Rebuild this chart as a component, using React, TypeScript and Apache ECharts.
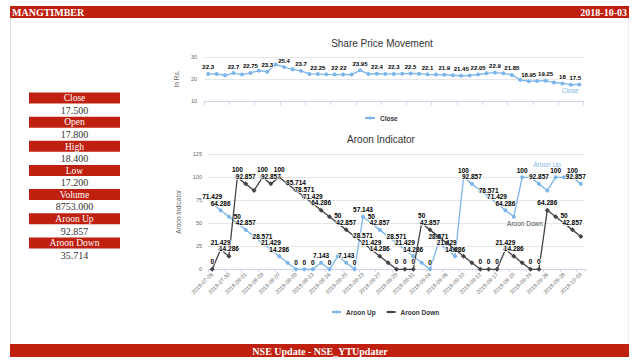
import React, { useEffect, useRef } from "react";
import * as echarts from "echarts";

const dates = ["2018-07-26","2018-07-27","2018-07-30","2018-07-31","2018-08-01","2018-08-02","2018-08-03","2018-08-06","2018-08-07","2018-08-08","2018-08-09","2018-08-10","2018-08-13","2018-08-14","2018-08-16","2018-08-17","2018-08-20","2018-08-21","2018-08-23","2018-08-24","2018-08-27","2018-08-28","2018-08-29","2018-08-30","2018-08-31","2018-09-03","2018-09-04","2018-09-05","2018-09-06","2018-09-07","2018-09-10","2018-09-11","2018-09-12","2018-09-14","2018-09-17","2018-09-18","2018-09-19","2018-09-21","2018-09-24","2018-09-25","2018-09-26","2018-09-27","2018-09-28","2018-10-01","2018-10-03"];

const closeValues = [22.3, 22.3, 21.7, 22.7, 22.0, 22.75, 23.8, 23.3, 26.6, 25.4, 24.4, 23.7, 22.3, 22.25, 22.1, 22, 22, 22.0, 23.95, 22.3, 22.4, 22.3, 22.3, 22.4, 22.5, 22.4, 22.1, 22.0, 21.9, 21.7, 21.45, 21.6, 22.05, 22.6, 22.9, 22.6, 21.85, 19.6, 18.95, 19.1, 19.25, 18.4, 18, 17.4, 17.5];
const closeLabelIdx = [0, 3, 5, 7, 9, 11, 13, 15, 16, 18, 20, 22, 24, 26, 28, 30, 32, 34, 36, 38, 40, 42, 44];

const aroonUp = [71.429, 64.286, 57.143, 50, 42.857, 35.714, 28.571, 21.429, 14.286, 7.143, 0, 0, 0, 7.143, 0, 14.286, 7.143, 0, 57.143, 50, 42.857, 35.714, 28.571, 21.429, 14.286, 7.143, 0, 28.571, 21.429, 14.286, 100, 92.857, 85.714, 78.571, 71.429, 64.286, 57.143, 100, 100, 92.857, 85.714, 100, 100, 100, 92.857];
const aroonUpLabelIdx = [0, 1, 3, 4, 6, 7, 8, 10, 11, 12, 13, 14, 16, 17, 18, 19, 20, 22, 23, 24, 26, 27, 28, 29, 30, 31, 33, 34, 35, 37, 39, 41, 43, 44];

const aroonDown = [0, 21.429, 14.286, 100, 92.857, 85.714, 100, 92.857, 100, 92.857, 85.714, 78.571, 71.429, 64.286, 57.143, 50, 42.857, 35.714, 28.571, 21.429, 14.286, 7.143, 0, 0, 0, 50, 42.857, 35.714, 28.571, 21.429, 14.286, 7.143, 0, 0, 0, 21.429, 14.286, 7.143, 0, 0, 64.286, 57.143, 50, 42.857, 35.714];
const aroonDownLabelIdx = [0, 1, 2, 3, 4, 6, 7, 8, 10, 11, 12, 13, 15, 16, 18, 19, 20, 22, 23, 24, 25, 26, 32, 33, 34, 35, 36, 38, 39, 40, 42, 43];

const panelLabels = ["Close", "Open", "High", "Low", "Volume", "Aroon Up", "Aroon Down"];
const panelValues = ["17.500", "17.800", "18.400", "17.200", "8753.000", "92.857", "35.714"];

const symbolName = "MANGTIMBER";
const reportDate = "2018-10-03";
const footerText = "NSE Update - NSE_YTUpdater";

const RED = "#c0200f";
const SERIF = "'Liberation Serif', 'Times New Roman', serif";
const SANS = "'Liberation Sans', Arial, sans-serif";

function withLabels(values: number[], shown: number[], lastOffset = 0) {
  return values.map((v, i) => {
    const label: any = { show: shown.includes(i) };
    if (lastOffset && i === values.length - 1) label.offset = [lastOffset, 0];
    return { value: v, label };
  });
}

const dataLabel = (size: number) => ({
  show: true,
  position: "top" as const,
  distance: 1.5,
  fontSize: size,
  fontWeight: "bold" as const,
  fontFamily: SANS,
  color: "#000",
  textBorderColor: "#fff",
  textBorderWidth: 1.5,
});

function buildGraphics() {
  const g: any[] = [];
  g.push({ type: "line", shape: { x1: 10.5, y1: 18, x2: 10.5, y2: 344 }, style: { stroke: "#dddddd", lineWidth: 1 } });
  g.push({ type: "line", shape: { x1: 628.5, y1: 18, x2: 628.5, y2: 344 }, style: { stroke: "#eeeeee", lineWidth: 1 } });
  g.push({ type: "rect", shape: { x: 10, y: 6, width: 619, height: 12 }, style: { fill: RED } });
  g.push({ type: "text", style: { text: symbolName, x: 12, y: 12.5, fill: "#fff", fontSize: 10, fontWeight: "bold", fontFamily: SERIF, verticalAlign: "middle", align: "left" } });
  g.push({ type: "text", style: { text: reportDate, x: 627, y: 12.5, fill: "#fff", fontSize: 10, fontWeight: "bold", fontFamily: SERIF, verticalAlign: "middle", align: "right" } });
  g.push({ type: "rect", shape: { x: 10, y: 344, width: 619, height: 13 }, style: { fill: RED } });
  g.push({ type: "text", style: { text: footerText, x: 320, y: 351, fill: "#fff", fontSize: 10, fontWeight: "bold", fontFamily: SERIF, verticalAlign: "middle", align: "center" } });
  panelLabels.forEach((lab, i) => {
    const y = 92.5 + i * 24.15;
    g.push({ type: "rect", shape: { x: 29, y, width: 91, height: 11 }, style: { fill: RED } });
    g.push({ type: "text", style: { text: lab, x: 74.5, y: y + 5.8, fill: "#fff", fontSize: 9.5, fontFamily: SERIF, verticalAlign: "middle", align: "center" } });
    g.push({ type: "text", style: { text: panelValues[i], x: 74.5, y: y + 17.8, fill: "#333", fontSize: 10, fontFamily: SERIF, verticalAlign: "middle", align: "center" } });
  });
  g.push({ type: "text", z: 1, style: { text: "Close", x: 570, y: 90, fill: "#7cb5ec", fontSize: 6.5, fontFamily: SANS, verticalAlign: "middle", align: "center", stroke: "#fff", lineWidth: 1.5 } });
  g.push({ type: "text", z: 1, style: { text: "Aroon Up", x: 547, y: 164.5, fill: "#7cb5ec", fontSize: 6.5, fontFamily: SANS, verticalAlign: "middle", align: "center" } });
  g.push({ type: "text", z: 1, style: { text: "Aroon Down", x: 525, y: 223, fill: "#434348", fontSize: 6.5, fontFamily: SANS, verticalAlign: "middle", align: "center", stroke: "#fff", lineWidth: 1.5 } });
  return g;
}

const axisNameStyle = { fontSize: 6.5, color: "#666", fontFamily: SANS };
const axisLabelStyle = { fontSize: 5.5, color: "#666", fontFamily: SANS };

const option: any = {
  animation: false,
  backgroundColor: "#fff",
  textStyle: { fontFamily: SANS },
  title: [
    { text: "Share Price Movement", left: 382, top: 38.5, padding: 0, textAlign: "center", textStyle: { fontSize: 10, fontWeight: "normal", color: "#333", fontFamily: SANS } },
    { text: "Aroon Indicator", left: 381, top: 134.5, padding: 0, textAlign: "center", textStyle: { fontSize: 10, fontWeight: "normal", color: "#333", fontFamily: SANS } },
  ],
  legend: [
    { data: ["Close"], left: 364, top: 114.5, padding: 0, itemWidth: 10, itemHeight: 4, itemGap: 10, textStyle: { fontSize: 6.5, fontWeight: "bold", color: "#333", fontFamily: SANS } },
    { data: ["Aroon Up", "Aroon Down"], left: 331, top: 308.5, padding: 0, itemWidth: 9, itemHeight: 4, itemGap: 10, textStyle: { fontSize: 6.5, fontWeight: "bold", color: "#333", fontFamily: SANS } },
  ],
  grid: [
    { left: 204, right: 56.5, top: 57, height: 44 },
    { left: 208, right: 55, top: 154.3, height: 115 },
  ],
  xAxis: [
    {
      type: "category", gridIndex: 0, data: dates, boundaryGap: true,
      axisLine: { lineStyle: { color: "#ccd6eb" } },
      axisTick: { show: true, length: 4, interval: 2, lineStyle: { color: "#ccd6eb" } },
      axisLabel: { show: false },
    },
    {
      type: "category", gridIndex: 1, data: dates, boundaryGap: true,
      axisLine: { lineStyle: { color: "#ccd6eb" } },
      axisTick: { show: true, length: 3, interval: 1, lineStyle: { color: "#ccd6eb" } },
      axisLabel: { ...axisLabelStyle, rotate: 45, interval: 1, margin: 4 },
    },
  ],
  yAxis: [
    {
      type: "value", gridIndex: 0, min: 10, max: 30, interval: 10,
      name: "In Rs.", nameLocation: "middle", nameRotate: 90, nameGap: 17, nameTextStyle: axisNameStyle,
      axisLine: { show: false }, axisTick: { show: false },
      axisLabel: { ...axisLabelStyle, margin: 7 },
      splitLine: { lineStyle: { color: "#e6e6e6" } },
    },
    {
      type: "value", gridIndex: 1, min: 0, max: 125, interval: 25,
      name: "Aroon Indicator", nameLocation: "middle", nameRotate: 90, nameGap: 21, nameTextStyle: axisNameStyle,
      axisLine: { show: false }, axisTick: { show: false },
      axisLabel: { ...axisLabelStyle, margin: 6 },
      splitLine: { lineStyle: { color: "#e6e6e6" } },
    },
  ],
  series: [
    {
      name: "Close", type: "line", xAxisIndex: 0, yAxisIndex: 0,
      data: withLabels(closeValues, closeLabelIdx, -4),
      color: "#7cb5ec", symbol: "circle", symbolSize: 4, showSymbol: true,
      lineStyle: { width: 1.3 }, label: dataLabel(6), z: 3,
    },
    {
      name: "Aroon Up", type: "line", xAxisIndex: 1, yAxisIndex: 1,
      data: withLabels(aroonUp, aroonUpLabelIdx, -5),
      color: "#7cb5ec", symbol: "circle", symbolSize: 4, showSymbol: true,
      lineStyle: { width: 1.3 }, label: dataLabel(6.5), z: 3,
    },
    {
      name: "Aroon Down", type: "line", xAxisIndex: 1, yAxisIndex: 1,
      data: withLabels(aroonDown, aroonDownLabelIdx),
      color: "#434348", symbol: "diamond", symbolSize: 5, showSymbol: true,
      lineStyle: { width: 1.3 }, label: dataLabel(6.5), z: 4,
    },
  ],
  graphic: buildGraphics(),
};

export default function App() {
  const ref = useRef<HTMLDivElement>(null);
  useEffect(() => {
    if (!ref.current) return;
    const chart = echarts.init(ref.current, null, { renderer: "svg", width: 640, height: 360 });
    chart.setOption(option);
    return () => chart.dispose();
  }, []);
  return (
    <div
      ref={ref}
      style={{ position: "fixed", left: 0, top: 0, width: 640, height: 360, background: "#fff" }}
    />
  );
}
